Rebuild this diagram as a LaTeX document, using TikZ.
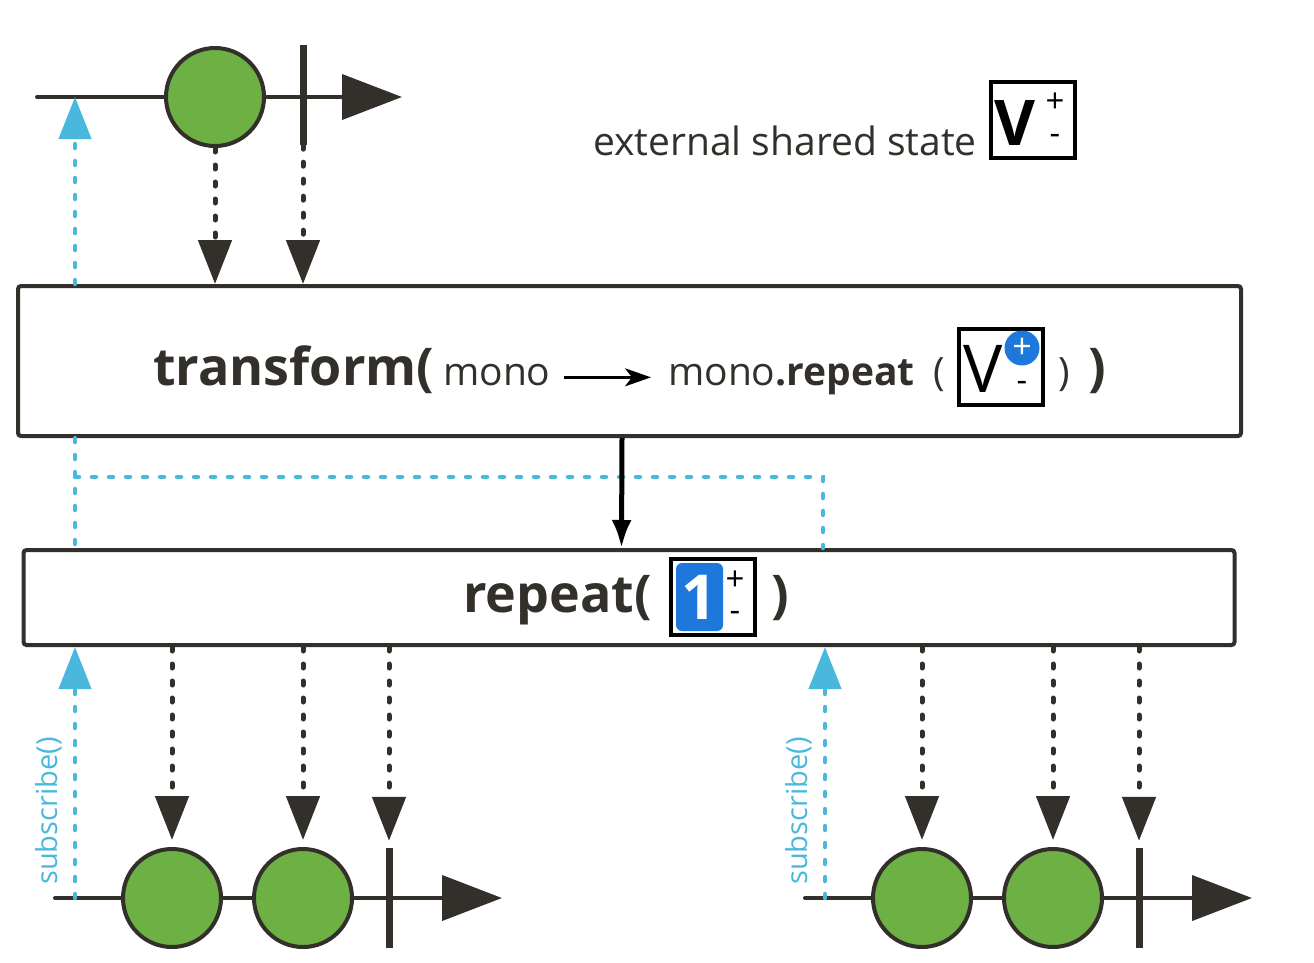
\documentclass[tikz,border=0pt]{standalone}
\usepackage{fontspec}
\setmainfont{Open Sans}
\usetikzlibrary{arrows.meta,shapes}
\pgfdeclarelayer{background}
\pgfsetlayers{background,main}
\definecolor{ink}{HTML}{33302B}
\definecolor{onnext}{HTML}{6DB044}
\definecolor{subblue}{HTML}{4AB8DC}
\definecolor{stateblue}{HTML}{1E78DC}
\newcommand{\opfont}{\fontsize{52}{60}\selectfont\bfseries}
\newcommand{\argfont}{\fontsize{39}{46}\selectfont}
\newcommand{\labfont}{\fontsize{29}{34}\selectfont}
\newcommand{\signfont}{\fontsize{33}{36}\selectfont}
\tikzstyle{event}=[circle,draw=ink,fill=onnext,line width=4pt,minimum size=98pt,inner sep=0pt]
\tikzstyle{oncomplete}=[rectangle,fill=ink,minimum width=7pt,minimum height=100pt,inner sep=0pt]
\tikzstyle{operator}=[rectangle,draw=ink,line width=4pt,rounded corners=3pt,inner sep=0pt]
\tikzstyle{statebox}=[rectangle,draw=black,line width=4pt,minimum width=84pt,minimum height=76pt,inner sep=0pt]
\tikzstyle{countfill}=[rectangle,fill=stateblue,rounded corners=6pt,minimum width=47pt,minimum height=68pt,inner sep=0pt,text=white,font=\fontsize{62}{66}\selectfont\bfseries]
\tikzstyle{incmark}=[circle,fill=stateblue,minimum size=35pt,inner sep=0pt,text=white,font=\fontsize{34}{36}\selectfont]
\tikzstyle{signmark}=[inner sep=0pt,text=black,font=\signfont]
\tikzstyle{opname}=[anchor=base west,inner sep=0pt,text=ink,font=\opfont]
\tikzstyle{arg}=[anchor=base west,inner sep=0pt,text=ink,font=\argfont]
\tikzstyle{sublabel}=[rotate=90,inner sep=0pt,text=subblue,font=\labfont]
\tikzstyle{timeline}=[draw=ink,line width=4pt,line cap=round,-{Triangle[length=60pt,width=45pt]}]
\tikzstyle{emit}=[draw=ink,line width=5pt,line cap=round,dash pattern=on 4pt off 13pt,-{Triangle[length=44pt,width=33pt]}]
\tikzstyle{subscribe}=[draw=subblue,line width=4.5pt,line cap=round,dash pattern=on 4pt off 13pt,-{Triangle[length=42pt,width=32pt]}]
\tikzstyle{apply}=[draw=black,line width=5pt,-{Latex[length=28pt,width=20pt]}]
\tikzstyle{maps}=[draw=black,line width=2.5pt,-{Stealth[length=26pt,width=18pt,inset=7pt]}]

\begin{document}
\begin{tikzpicture}[x=1pt,y=-1pt]
    \useasboundingbox (0,0) rectangle (1314,962);
    % the source mono on top
    \coordinate (srcstart) at (37,97);
    \coordinate (srctip) at (402,97);
    \coordinate (srcsub) at (75,97);
    \begin{pgfonlayer}{background}
        \path[timeline] (srcstart) -- (srctip);
    \end{pgfonlayer}
    \node[event] (src) at (215,97) {};
    \node[oncomplete] (srcend) at (303,95) {};

    % external shared state
    \node[arg,anchor=base east] (sharedlabel) at (977,155) {external shared state};
    \node[statebox] (shared) at (1033,120) {};
    \node[anchor=base,inner sep=0pt,font=\fontsize{63}{66}\selectfont\bfseries] (sharedv) at (1015,145) {V};
    \node[signmark] (sharedinc) at (1055,103) {+};
    \node[signmark] (shareddec) at (1055,139) {-};

    % the two operators
    \node[operator,minimum width=1223pt,minimum height=150pt] (transform) at (629.5,361) {};
    \node[operator,minimum width=1211pt,minimum height=95pt] (repeat) at (629,597.5) {};

    % transform( mono -> mono.repeat( V ) )
    \node[opname] (tname) at (153,385) {transform(};
    \node[arg] (monoin) at (443,385) {mono};
    \node[arg] (monoout) at (668,385) {mono\textbf{.repeat}};
    \node[arg] (lpar) at (933,385) {(};
    \node[statebox] (state) at (1000.5,367) {};
    \node[anchor=base,inner sep=0pt,font=\fontsize{66}{70}\selectfont] (statev) at (983,392) {V};
    \node[incmark] (stateinc) at (1022,348) {+};
    \node[signmark] (statedec) at (1022,386) {-};
    \node[arg] (rpar) at (1058,385) {)};
    \node[opname] (tclose) at (1088,385) {)};
    \path[maps] ([xshift=13pt,yshift=5pt]monoin.mid east) -- ([xshift=-17pt,yshift=5pt]monoout.mid west);

    % repeat( 1 )
    \node[opname] (rname) at (463,612) {repeat(};
    \node[statebox] (count) at (713,597) {};
    \node[countfill] (countv) at (699.5,597) {1};
    \node[signmark] (countinc) at (735,581) {+};
    \node[signmark] (countdec) at (735,616) {-};
    \node[opname] (rclose) at (771,612) {)};

    % source events go into transform
    \foreach \source in {src,srcend}
        \path[emit] (\source.south) -- (\source.south |- transform.north);
    \path[subscribe] (srcsub |- transform.north) -- (srcsub);

    % transform hands its result to repeat
    \coordinate (resub) at (823,477);
    \path[subscribe,-] (srcsub |- transform.south) -- (srcsub |- repeat.north);
    \path[subscribe,-] (srcsub |- resub) -- (resub) -- (resub |- repeat.north);
    \path[apply] ([xshift=-7.5pt]transform.south) -- ([xshift=-7.5pt]repeat.north);

    % one output per subscription
    \foreach \run/\dx in {a/0,b/750}{
        \coordinate (start\run) at (55+\dx,898);
        \coordinate (tip\run) at (502+\dx,898);
        \coordinate (sub\run) at (75+\dx,898);
        \begin{pgfonlayer}{background}
            \path[timeline] (start\run) -- (tip\run);
        \end{pgfonlayer}
        \node[event] (out\run1) at (172+\dx,898) {};
        \node[event] (out\run2) at (303+\dx,898) {};
        \node[oncomplete] (end\run) at (389+\dx,898) {};
        \foreach \dest in {out\run1,out\run2,end\run}
            \path[emit,shorten >=7pt] (\dest.north |- repeat.south) -- (\dest.north);
        \path[subscribe] (sub\run) -- (sub\run |- repeat.south);
        \node[sublabel] (label\run) at (49+\dx,811) {subscribe()};
    }
\end{tikzpicture}
\end{document}
